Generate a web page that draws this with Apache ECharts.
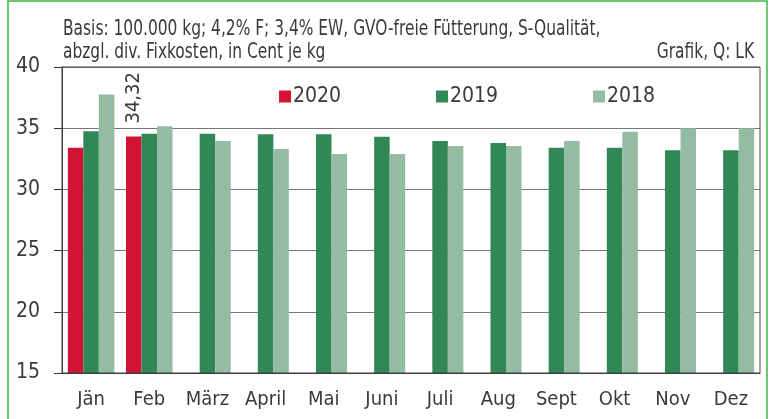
<!DOCTYPE html>
<html>
<head>
<meta charset="utf-8">
<script src="https://cdn.jsdelivr.net/npm/echarts@6/dist/echarts.min.js"></script>
<style>
  html, body { margin: 0; padding: 0; background: #fff; }
  #chart { width: 779px; height: 419px; }
</style>
</head>
<body>
<div id="chart"></div>
<script>
const months = ['Jän', 'Feb', 'März', 'April', 'Mai', 'Juni', 'Juli', 'Aug', 'Sept', 'Okt', 'Nov', 'Dez'];
const y2020 = [33.4, 34.32, null, null, null, null, null, null, null, null, null, null];
const y2019 = [34.75, 34.55, 34.55, 34.5, 34.5, 34.3, 33.95, 33.8, 33.4, 33.4, 33.2, 33.2];
const y2018 = [37.75, 35.15, 33.95, 33.3, 32.9, 32.9, 33.55, 33.55, 33.95, 34.7, 35.0, 35.0];

const FONT = "'DejaVu Sans Condensed', 'Liberation Sans Narrow', sans-serif";
const TXT = '#3a3a3a';
const colors = { '2020': '#d31336', '2019': '#318755', '2018': '#94bca2' };

const chart = echarts.init(document.getElementById('chart'), null, { renderer: 'canvas' });

function legendAt(name, left) {
  return {
    data: [name],
    left: left,
    top: 86,
    icon: 'rect',
    itemWidth: 12,
    itemHeight: 12,
    itemGap: 0,
    padding: 0,
    textStyle: { fontFamily: FONT, fontSize: 21, color: TXT, padding: [0, 0, 0, -3] }
  };
}

// squeezed text, the original uses a condensed face
function headText(str, x, y, align) {
  return {
    type: 'text', x: x, y: y, scaleX: 0.78,
    style: { text: str, font: '22px ' + FONT, fill: TXT, align: align, verticalAlign: 'middle' }
  };
}

chart.setOption({
  animation: false,
  textStyle: { fontFamily: FONT },
  grid: { left: 62, right: 19, top: 67, bottom: 46 },
  legend: [legendAt('2020', 279), legendAt('2019', 436), legendAt('2018', 593)],
  graphic: [
    {
      type: 'rect',
      shape: { x: 8, y: 1, width: 759, height: 430 },
      style: { fill: 'none', stroke: '#3cb54a', lineWidth: 1.5 }
    },
    headText('Basis: 100.000 kg; 4,2% F; 3,4% EW, GVO-freie Fütterung, S-Qualität,', 63, 29, 'left'),
    headText('abzgl. div. Fixkosten, in Cent je kg', 63, 52, 'left'),
    headText('Grafik, Q: LK', 754, 52, 'right'),
    {
      type: 'rect',
      shape: { x: 62, y: 67, width: 698, height: 306 },
      style: { fill: 'none', stroke: '#444', lineWidth: 1 },
      z: 10
    }
  ],
  xAxis: {
    type: 'category',
    data: months,
    axisLine: { lineStyle: { color: '#333', width: 1 } },
    axisTick: { length: 6, lineStyle: { color: '#333' } },
    axisLabel: { interval: 0, fontFamily: FONT, fontSize: 20, color: TXT, margin: 17 }
  },
  yAxis: {
    type: 'value',
    min: 15, max: 40, interval: 5,
    axisLine: { show: true, lineStyle: { color: '#333', width: 1 } },
    axisTick: { show: true, length: 8, lineStyle: { color: '#333' } },
    axisLabel: { fontFamily: FONT, fontSize: 21, color: TXT, margin: 22 },
    splitLine: { lineStyle: { color: '#777', width: 1 } }
  },
  series: [
    {
      name: '2020', type: 'bar', data: y2020,
      barGap: '0%', barCategoryGap: '20%',
      itemStyle: { color: colors['2020'] },
      label: {
        show: true, position: 'top', rotate: 90, align: 'left', verticalAlign: 'middle',
        distance: 13, fontFamily: FONT, fontSize: 20, color: TXT,
        formatter: p => (p.dataIndex === 1 ? String(p.value).replace('.', ',') : '')
      }
    },
    { name: '2019', type: 'bar', data: y2019, itemStyle: { color: colors['2019'] } },
    { name: '2018', type: 'bar', data: y2018, itemStyle: { color: colors['2018'] } }
  ]
});
</script>
</body>
</html>
